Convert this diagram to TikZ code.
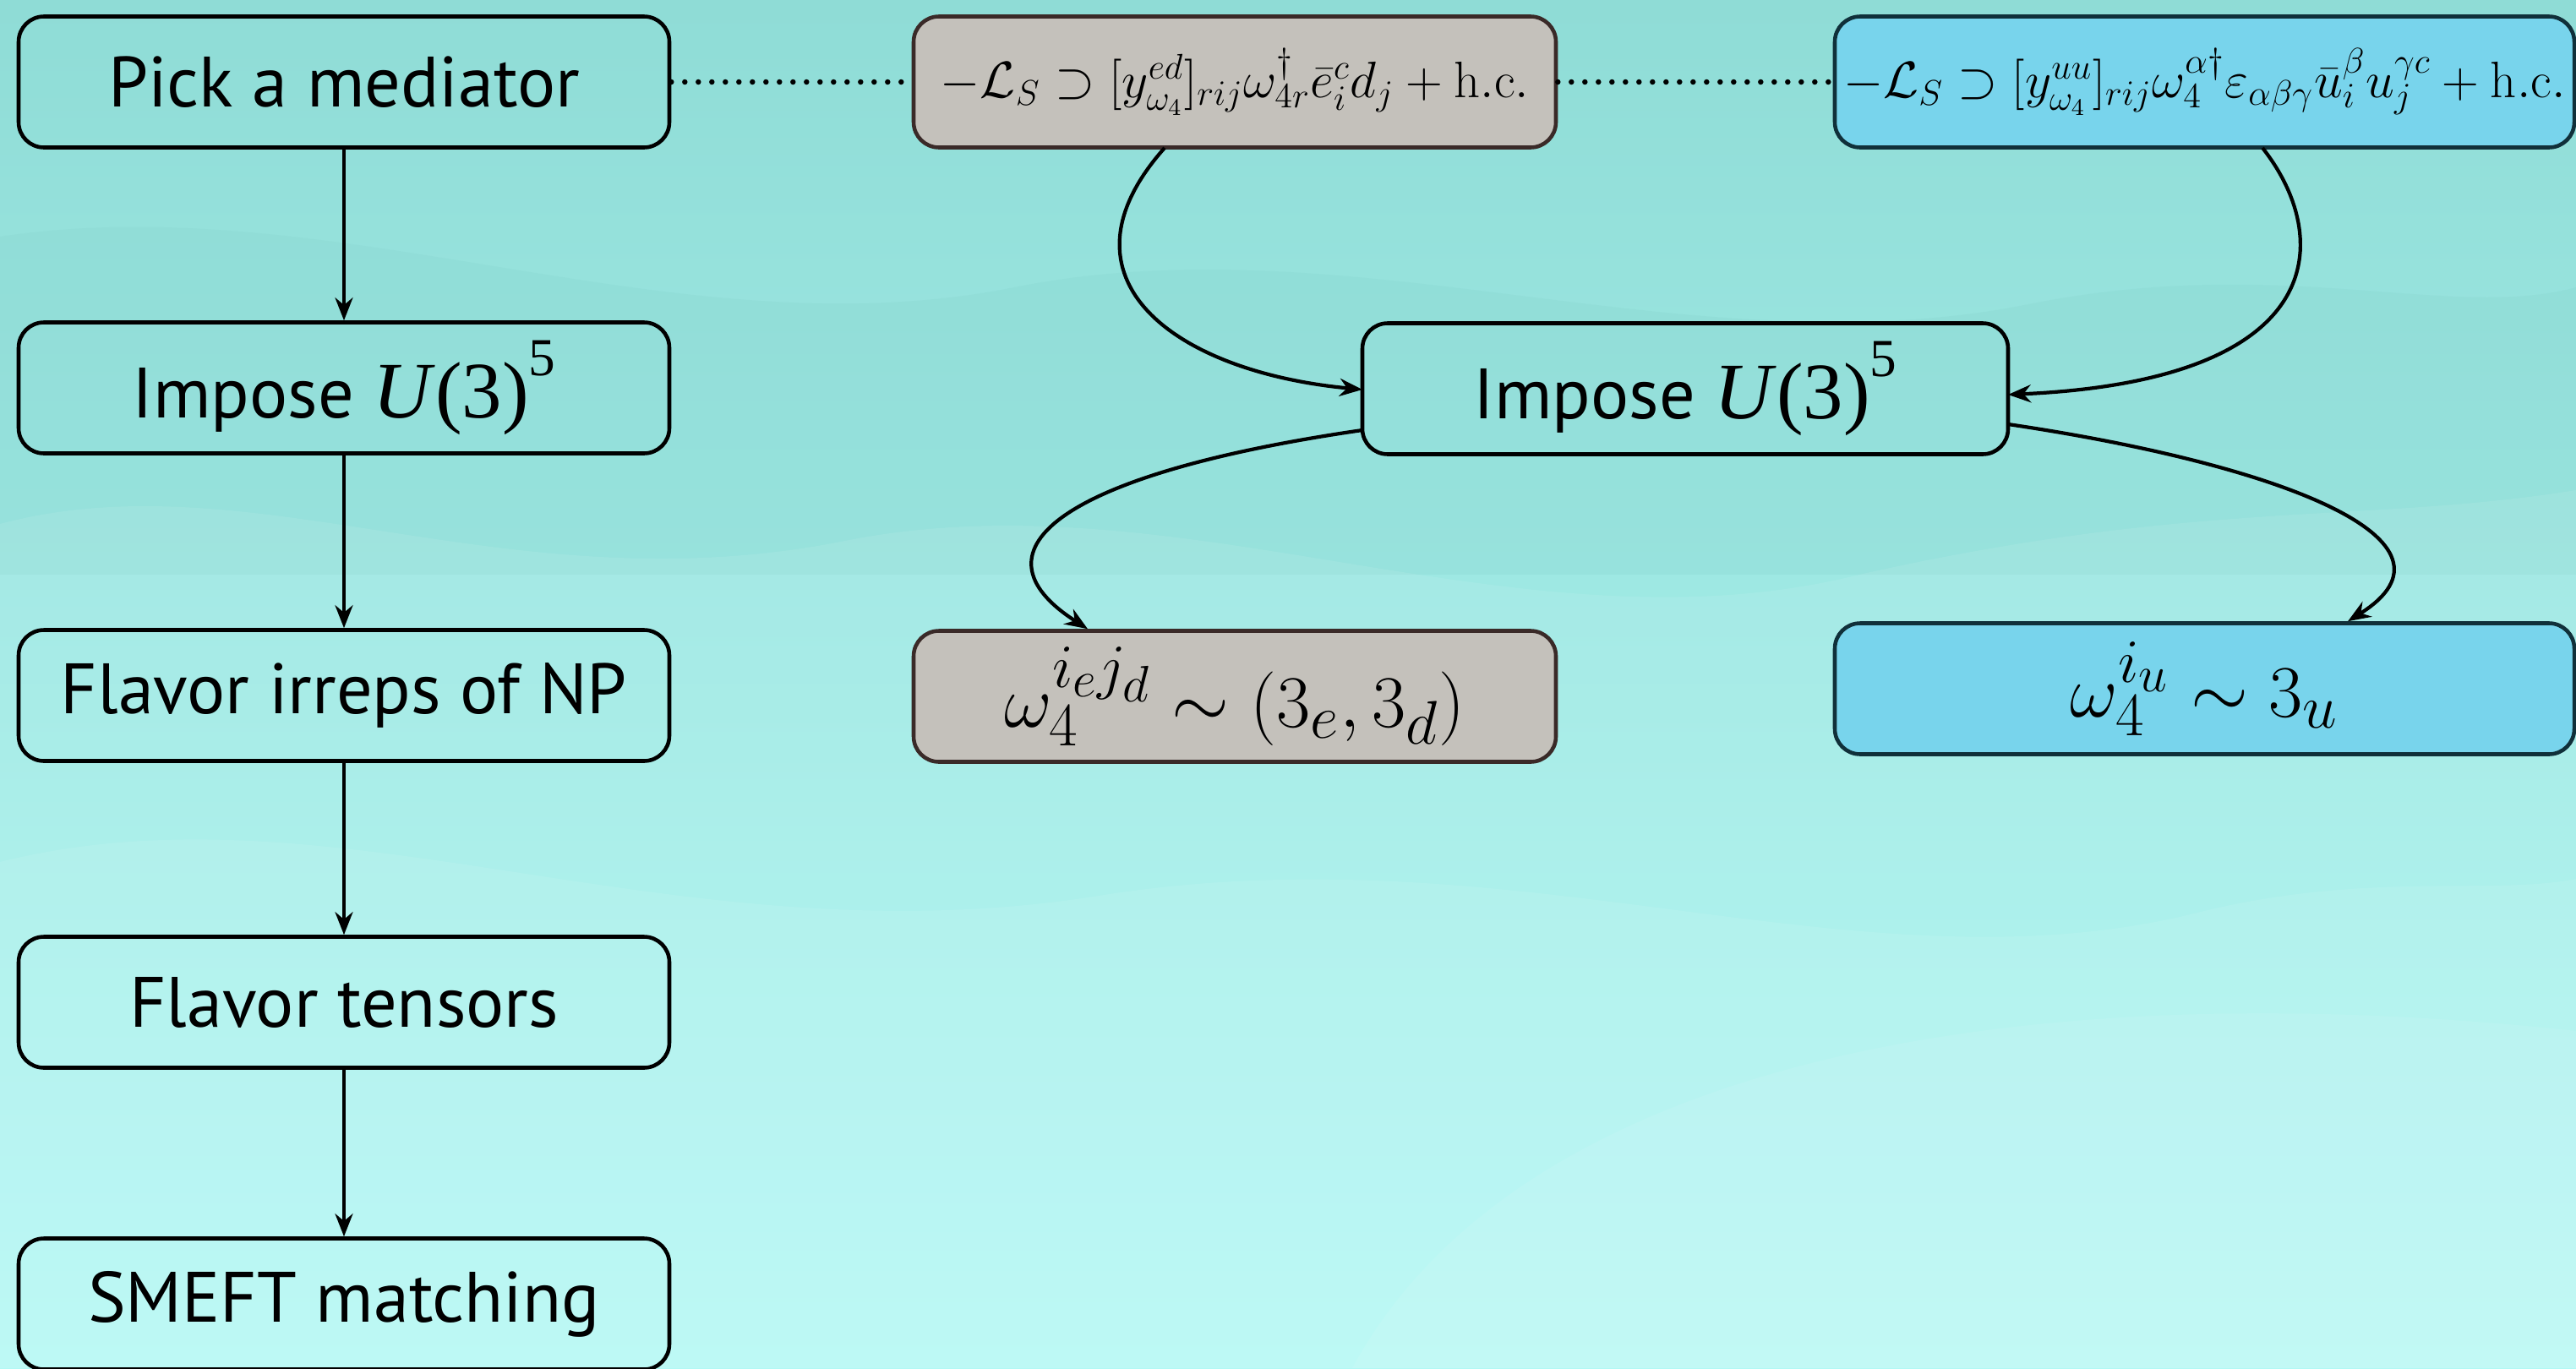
\documentclass[tikz,border=0pt]{standalone}
\usepackage[no-math]{fontspec}
\setmainfont{PT Sans}
\newfontfamily\timesf{Liberation Serif}
\usetikzlibrary{arrows.meta}
\definecolor{bgtop}{HTML}{8FDCD6}
\definecolor{bgbot}{HTML}{B2F9F5}
\definecolor{bgdark}{HTML}{86D3CD}
\definecolor{grayfill}{HTML}{C4C1BB}
\definecolor{grayedge}{HTML}{3A2A28}
\definecolor{bluefill}{HTML}{78D4EC}
\definecolor{blueedge}{HTML}{10303A}
\begin{document}
\begin{tikzpicture}[x=1cm,y=1cm]
\useasboundingbox (0,0) rectangle (30.48,-16.19);
% background
\shade[top color=bgtop,bottom color=bgbot] (0,0) rectangle (30.48,-16.19);
\fill[bgdark,opacity=0.25] (0,-2.8) .. controls (4,-2.2) and (8,-4.2) .. (12,-3.4) .. controls (16,-2.6) and (20,-4.4) .. (24,-3.6) .. controls (27,-3.0) and (29,-3.8) .. (30.48,-3.4) -- (30.48,-6.8) -- (0,-6.8) -- cycle;
\fill[white,opacity=0.08] (0,-6.2) .. controls (3,-5.4) and (6,-7.2) .. (10,-6.4) .. controls (14,-5.6) and (18,-7.8) .. (22,-6.8) .. controls (26,-5.9) and (28,-6.2) .. (30.48,-5.8) -- (30.48,-16.19) -- (0,-16.19) -- cycle;
\fill[white,opacity=0.08] (0,-10.2) .. controls (4,-9.2) and (8,-11.4) .. (13,-10.6) .. controls (18,-9.8) and (22,-11.8) .. (26,-10.8) .. controls (28,-10.3) and (29.5,-10.6) .. (30.48,-10.4) -- (30.48,-16.19) -- (0,-16.19) -- cycle;
\fill[white,opacity=0.08] (16,-16.19) .. controls (18,-12.5) and (24,-11.5) .. (30.48,-12.2) -- (30.48,-16.19) -- cycle;
\tikzset{
  box/.style={draw=black,line width=1.3pt,rounded corners=0.3cm,minimum width=7.7cm,minimum height=1.55cm,inner sep=0pt,align=center,font=\fontsize{24}{28}\selectfont},
  graybox/.style={box,fill=grayfill,draw=grayedge,minimum width=7.6cm},
  bluebox/.style={box,fill=bluefill,draw=blueedge,minimum width=8.75cm},
  eqsmall/.style={font=\fontsize{17}{20}\selectfont},
  eqbig/.style={font=\fontsize{32.5}{36}\selectfont},
  arr/.style={-{Stealth[length=0.27cm,width=0.21cm]},line width=1.2pt},
  dots/.style={line width=0.065cm,dash pattern=on 0pt off 0.16cm,line cap=round}
}
\newcommand{\Uthree}{{\timesf\fontsize{27}{30}\selectfont\itshape U\/}{\timesf\fontsize{27}{30}\selectfont(3)}\raisebox{0.6em}{\timesf\fontsize{18}{18}\selectfont 5}}
% left column
\node[box] (pick) at (4.07,-0.97) {Pick a mediator};
\node[box] (imp1) at (4.07,-4.59) {Impose \Uthree};
\node[box] (irr) at (4.07,-8.23) {Flavor irreps of NP};
\node[box] (ten) at (4.07,-11.86) {Flavor tensors};
\node[box] (sme) at (4.07,-15.43) {SMEFT matching};
\draw[arr] (pick) -- (imp1);
\draw[arr] (imp1) -- (irr);
\draw[arr] (irr) -- (ten);
\draw[arr] (ten) -- (sme);
% top row
\node[graybox,eqsmall] (lag1) at (14.61,-0.97) {$-\mathcal{L}_S\supset[y^{ed}_{\omega_4}]_{rij}\omega^\dagger_{4r}\bar{e}^c_i d_j+\mathrm{h.c.}$};
\node[bluebox,eqsmall] (lag2) at (26.085,-0.97) {$-\mathcal{L}_S\supset[y^{uu}_{\omega_4}]_{rij}\omega^{\alpha\dagger}_4\varepsilon_{\alpha\beta\gamma}\bar{u}^\beta_i u^{\gamma c}_j+\mathrm{h.c.}$};
\draw[dots] (pick.east) -- (lag1.west);
\draw[dots] (lag1.east) -- (lag2.west);
% middle
\node[box,minimum width=7.64cm] (imp2) at (19.94,-4.60) {Impose \Uthree};
\coordinate (a1) at (13.78,-1.75);
\coordinate (a2) at (26.77,-1.75);
\coordinate (b1) at (16.12,-4.61);
\coordinate (b2) at (23.76,-4.67);
\coordinate (c1) at (16.12,-5.09);
\coordinate (c2) at (23.76,-5.02);
\draw[arr] (a1) .. controls (12.4,-3.3) and (13.9,-4.4) .. (b1);
\draw[arr] (a2) .. controls (27.6,-2.8) and (27.6,-4.5) .. (b2);
% bottom
\node[graybox,eqbig] (rep1) at (14.61,-8.24) {$\omega^{i_e j_d}_4\sim(3_e,3_d)$};
\node[bluebox,eqbig] (rep2) at (26.085,-8.15) {$\omega^{i_u}_4\sim3_u$};
\draw[arr] (c1) .. controls (12.6,-5.6) and (11.4,-6.5) .. (rep1.north west -| 12.87,0);
\draw[arr] (c2) .. controls (27.0,-5.5) and (29.3,-6.4) .. (rep2.north west -| 27.78,0);
\end{tikzpicture}
\end{document}
